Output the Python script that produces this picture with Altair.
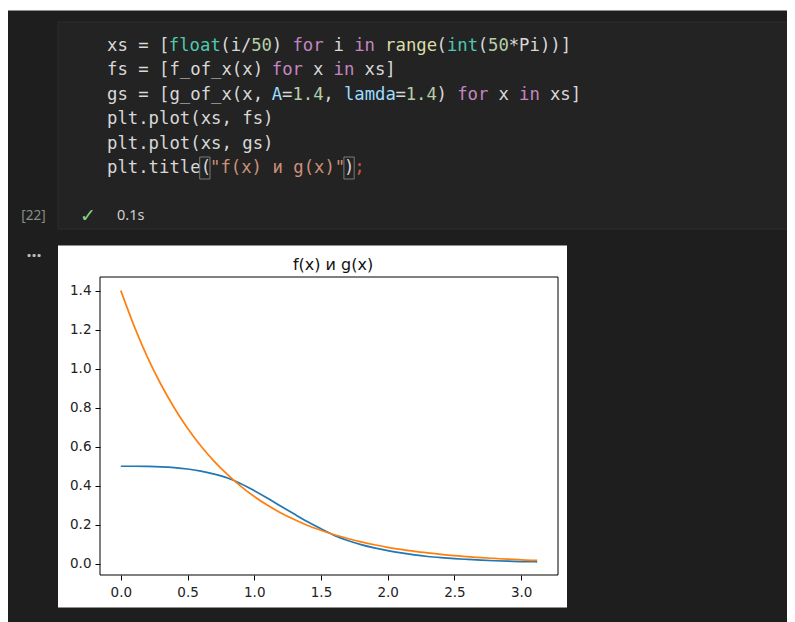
import altair as alt
import pandas as pd

# ---------------- data ----------------
XS = [0.0, 0.1, 0.2, 0.3, 0.4, 0.5, 0.6, 0.7, 0.8, 0.9,
      1.0, 1.1, 1.2, 1.3, 1.4, 1.5, 1.6, 1.7, 1.8, 1.9,
      2.0, 2.1, 2.2, 2.3, 2.4, 2.5, 2.6, 2.7, 2.8, 2.9,
      3.0, 3.1, 3.12]
FS = [0.500, 0.500, 0.499, 0.497, 0.493, 0.486, 0.475, 0.460, 0.440, 0.411,
      0.375, 0.336, 0.295, 0.255, 0.216, 0.180, 0.146, 0.120, 0.099, 0.082,
      0.068, 0.056, 0.046, 0.038, 0.032, 0.027, 0.023, 0.019, 0.016, 0.014,
      0.012, 0.011, 0.010]
GS = [1.400, 1.218, 1.058, 0.920, 0.800, 0.695, 0.604, 0.525, 0.457, 0.397,
      0.345, 0.300, 0.261, 0.227, 0.197, 0.172, 0.149, 0.130, 0.113, 0.098,
      0.085, 0.074, 0.064, 0.056, 0.049, 0.042, 0.037, 0.032, 0.028, 0.024,
      0.021, 0.018, 0.018]
X_TICKS = [0.0, 0.5, 1.0, 1.5, 2.0, 2.5, 3.0]
Y_TICKS = [0.0, 0.2, 0.4, 0.6, 0.8, 1.0, 1.2, 1.4]
TITLE = "f(x) и g(x)"

# code cell text, split into syntax-coloured tokens
CODE_LINES = [
    [("xs = [", "d"), ("float", "b"), ("(i/", "d"), ("50", "n"), (") ", "d"), ("for", "k"),
     (" i ", "d"), ("in", "k"), (" ", "d"), ("range", "f"), ("(", "d"), ("int", "b"),
     ("(", "d"), ("50", "n"), ("*Pi))]", "d")],
    [("fs = [f_of_x(x) ", "d"), ("for", "k"), (" x ", "d"), ("in", "k"), (" xs]", "d")],
    [("gs = [g_of_x(x, ", "d"), ("A", "p"), ("=", "d"), ("1.4", "n"), (", ", "d"),
     ("lamda", "p"), ("=", "d"), ("1.4", "n"), (") ", "d"), ("for", "k"), (" x ", "d"),
     ("in", "k"), (" xs]", "d")],
    [("plt.plot(xs, fs)", "d")],
    [("plt.plot(xs, gs)", "d")],
    [("plt.title(", "d"), ('"f(x) и g(x)"', "s"), (")", "d"), (";", "e")],
]
CELL_NUMBER = "[22]"
STATUS_MARK = "✓"
STATUS_TIME = "0.1s"
OUTPUT_MARK = "..."

# ---------------- styling / layout ----------------
TOKEN_COLORS = {"d": "#d8d8d8", "k": "#c586c0", "b": "#4ec9b0", "f": "#dcdcaa",
                "n": "#b5cea8", "p": "#9cdcfe", "s": "#ce9178", "e": "#c25a4c"}
W, H = 458, 298
OX, OY = 100, 277          # plot origin in page pixels


def px(v):
    return v - OX


def py(v):
    return v - OY


CHAR_W = 10.3
LINE_Y0, LINE_DY = 46, 24.4
CODE_X0 = 107

rows = []
for li, toks in enumerate(CODE_LINES):
    col = 0
    for txt, kind in toks:
        lead = len(txt) - len(txt.lstrip())
        s = txt.strip()
        if s:
            rows.append({"px": px(CODE_X0 + (col + lead) * CHAR_W),
                         "py": py(LINE_Y0 + li * LINE_DY),
                         "text": s, "color": TOKEN_COLORS[kind]})
        col += len(txt)
tokens = pd.DataFrame(rows)

one = pd.DataFrame({"k": [0]})

# background pieces
top_strip = alt.Chart(one).mark_rect(color="white").encode(
    x=alt.value(-OX), x2=alt.value(800), y=alt.value(-OY), y2=alt.value(py(10.5)))
cell = alt.Chart(one).mark_rect(fill="#232323", stroke="#2c2c2c", strokeWidth=1).encode(
    x=alt.value(px(58)), x2=alt.value(px(800)), y=alt.value(py(22)), y2=alt.value(py(229)))

code = alt.Chart(tokens).mark_text(
    align="left", baseline="middle", font="DejaVu Sans Mono", fontSize=17.3).encode(
    x=alt.X("px:Q", scale=None, axis=None),
    y=alt.Y("py:Q", scale=None, axis=None),
    text="text:N",
    color=alt.Color("color:N", scale=None))

# bracket-match boxes on the last code line
l6y = LINE_Y0 + 5 * LINE_DY
boxes = []
for c in (9, 23):
    x0 = CODE_X0 + c * CHAR_W
    boxes.append(alt.Chart(one).mark_rect(fill=None, stroke="#7a7a7a", strokeWidth=1).encode(
        x=alt.value(px(x0)), x2=alt.value(px(x0 + CHAR_W)),
        y=alt.value(py(l6y - 11)), y2=alt.value(py(l6y + 11))))

status_num = alt.Chart(one).mark_text(
    align="center", baseline="middle", font="Noto Sans", fontSize=13.5, color="#8c8c8c").encode(
    x=alt.value(px(33.5)), y=alt.value(py(216)), text=alt.value(CELL_NUMBER))
status_chk = alt.Chart(one).mark_text(
    align="center", baseline="middle", font="DejaVu Sans", fontSize=19, color="#89d185").encode(
    x=alt.value(px(88)), y=alt.value(py(216)), text=alt.value(STATUS_MARK))
status_time = alt.Chart(one).mark_text(
    align="left", baseline="middle", font="Noto Sans", fontSize=14.5, color="#d0d0d0").encode(
    x=alt.value(px(117)), y=alt.value(py(216)), text=alt.value(STATUS_TIME))
out_mark = alt.Chart(one).mark_text(
    align="center", baseline="alphabetic", font="Noto Sans", fontSize=18, fontWeight="bold",
    color="#bbbbbb").encode(
    x=alt.value(px(34)), y=alt.value(py(257)), text=alt.value(OUTPUT_MARK))

figure = alt.Chart(one).mark_rect(fill="white").encode(
    x=alt.value(px(58)), x2=alt.value(px(567)), y=alt.value(py(245.5)), y2=alt.value(py(607.5)))

# ---------------- the plot ----------------
df = pd.DataFrame({"x": XS, "f": FS, "g": GS})
xscale = alt.Scale(domain=[-0.156, 3.276], nice=False, zero=False)
yscale = alt.Scale(domain=[-0.0569, 1.4694], nice=False, zero=False)
axis_common = dict(domain=False, grid=False, ticks=True, tickColor="#000000", tickSize=5,
                   tickWidth=1, labelFont="DejaVu Sans", labelFontSize=13.5,
                   labelColor="#222222", format=".1f", title=None, zindex=1,
                   labelFlush=False, labelOverlap=False)

f_line = alt.Chart(df).mark_line(color="#1f77b4", strokeWidth=1.7, interpolate="monotone").encode(
    x=alt.X("x:Q", scale=xscale, axis=alt.Axis(values=X_TICKS, labelPadding=5, **axis_common)),
    y=alt.Y("f:Q", scale=yscale, axis=alt.Axis(values=Y_TICKS, labelPadding=4, **axis_common)))
g_line = alt.Chart(df).mark_line(color="#ff7f0e", strokeWidth=1.7, interpolate="monotone").encode(
    x=alt.X("x:Q", scale=xscale),
    y=alt.Y("g:Q", scale=yscale))

frame = alt.Chart(one).mark_rect(fill=None, stroke="#000000", strokeWidth=1).encode(
    x=alt.value(0), x2=alt.value(W), y=alt.value(0), y2=alt.value(H))

title = alt.Chart(one).mark_text(
    align="center", baseline="middle", font="DejaVu Sans", fontSize=16, color="#111111").encode(
    x=alt.value(W / 2 + 4), y=alt.value(py(265)), text=alt.value(TITLE))

chart = alt.layer(
    top_strip, cell, code, *boxes, status_num, status_chk, status_time, out_mark,
    figure, f_line, g_line, frame, title
).properties(
    width=W, height=H,
    padding={"left": 92, "top": 269, "right": 229, "bottom": 47},
    autosize=alt.AutoSizeParams(type="none"),
    background="#1e1e1e",
).configure_view(stroke=None)

chart.save("out.html", embed_options={"renderer": "svg", "actions": False})
